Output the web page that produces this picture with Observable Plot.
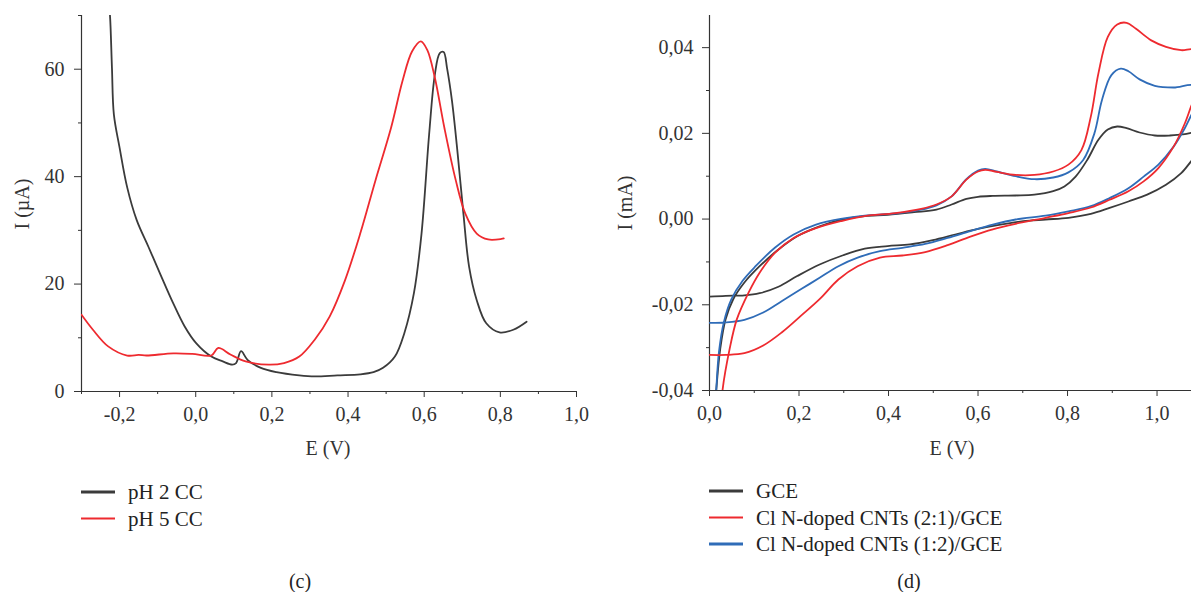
<!DOCTYPE html>
<html>
<head>
<meta charset="utf-8">
<script src="https://cdn.jsdelivr.net/npm/d3@7"></script>
<script src="https://cdn.jsdelivr.net/npm/@observablehq/plot@0.6"></script>
<style>
  html, body { margin: 0; padding: 0; background: #fff; }
  #wrap { position: relative; width: 1191px; height: 592px; overflow: hidden; font-family: "Liberation Serif", "DejaVu Serif", serif; color: #333; }
  #wrap svg { position: absolute; top: 0; overflow: visible; }
  .lab { position: absolute; font-size: 20px; white-space: nowrap; color: #333; }
  .ylab { transform: translate(-50%, -50%) rotate(-90deg); }
  .xlab { transform: translate(-50%, -50%); }
  .leg { position: absolute; font-size: 21px; white-space: nowrap; color: #222; display: flex; align-items: center; transform: translateY(-50%); }
  .leg span.sw { display: inline-block; width: 34px; height: 2.5px; margin-right: 13px; }
  .cap { position: absolute; font-size: 20px; transform: translate(-50%, -50%); color: #222; }
</style>
</head>
<body>
<div id="wrap"></div>
<script>
// ---------- Panel (c): DPV, E (V) vs I (µA) ----------
const pH2CC = [
  [-0.228,72],[-0.225,69.8],[-0.220,60.2],[-0.215,51.6],[-0.200,45.4],[-0.180,38.0],[-0.155,31.9],
  [-0.124,26.9],[-0.094,22.0],[-0.059,16.4],[-0.029,12.1],[0.001,9.0],[0.041,6.5],
  [0.071,5.6],[0.096,5.0],[0.106,5.3],[0.119,7.5],[0.136,5.9],[0.171,4.4],[0.212,3.6],
  [0.272,3.0],[0.312,2.8],[0.372,3.0],[0.432,3.2],[0.467,3.6],[0.492,4.4],[0.523,6.5],
  [0.548,10.9],[0.573,18.3],[0.593,29.4],[0.613,47.9],[0.628,59.0],[0.641,63.0],[0.651,63.2],
  [0.660,60.2],[0.673,54.1],[0.688,44.2],[0.703,33.1],[0.718,23.2],[0.738,17.0],[0.763,12.7],
  [0.798,11.0],[0.834,11.5],[0.869,13.0]
];
const pH5CC = [
  [-0.300,14.3],[-0.270,11.5],[-0.230,8.4],[-0.180,6.7],[-0.150,6.8],[-0.129,6.7],[-0.059,7.1],
  [-0.009,7.0],[0.041,6.7],[0.059,8.1],[0.091,6.9],[0.131,5.6],[0.192,5.0],[0.232,5.3],
  [0.272,6.5],[0.312,9.6],[0.352,14.0],[0.392,20.7],[0.432,29.4],[0.472,39.3],[0.513,49.1],
  [0.543,57.8],[0.568,63.3],[0.591,65.2],[0.608,63.6],[0.628,58.4],[0.653,49.1],[0.683,39.3],
  [0.708,33.1],[0.738,29.4],[0.768,28.3],[0.803,28.4],[0.809,28.5]
];
const cSeries = ["pH 2 CC", "pH 5 CC"];
const cXTicks = [-0.2, 0, 0.2, 0.4, 0.6, 0.8, 1.0];
const cXMinor = [-0.3, -0.1, 0.1, 0.3, 0.5, 0.7, 0.9];
const cYTicks = [0, 20, 40, 60];
const cYMinor = [10, 30, 50, 70];

// ---------- Panel (d): CV, E (V) vs I (mA) ----------
const gce = [
  [0.010,-0.047],[0.015,-0.040],[0.024,-0.0303],[0.036,-0.0234],[0.053,-0.0187],[0.078,-0.0148],
  [0.112,-0.0110],[0.154,-0.0071],[0.196,-0.0040],[0.246,-0.0017],[0.297,-0.0001],[0.347,0.0007],
  [0.398,0.0010],[0.457,0.0016],[0.507,0.0022],[0.541,0.0034],[0.574,0.0047],[0.600,0.0052],
  [0.633,0.0054],[0.684,0.0055],[0.726,0.0057],[0.768,0.0065],[0.793,0.0076],[0.818,0.0099],
  [0.844,0.0138],[0.869,0.0185],[0.890,0.0209],[0.911,0.0216],[0.932,0.0212],[0.961,0.0202],
  [0.995,0.0195],[1.029,0.0195],[1.062,0.0198],[1.085,0.0200],
  [1.085,0.0143],[1.079,0.0138],[1.054,0.0107],[1.020,0.0080],[0.978,0.0057],[0.936,0.0041],
  [0.894,0.0026],[0.852,0.0012],[0.802,0.0003],[0.751,-0.0001],[0.701,-0.0005],[0.650,-0.0013],
  [0.600,-0.0023],[0.549,-0.0036],[0.499,-0.0049],[0.448,-0.0059],[0.398,-0.0063],[0.347,-0.0069],
  [0.297,-0.0085],[0.246,-0.0106],[0.196,-0.0133],[0.154,-0.0158],[0.112,-0.0173],[0.078,-0.0178],
  [0.036,-0.0179],[0.000,-0.0181]
];
const cnt21 = [
  [0.024,-0.047],[0.029,-0.040],[0.045,-0.0303],[0.061,-0.0234],[0.087,-0.0172],[0.112,-0.0125],
  [0.146,-0.0079],[0.188,-0.0044],[0.238,-0.0021],[0.297,-0.0004],[0.347,0.0007],[0.415,0.0014],
  [0.473,0.0024],[0.507,0.0034],[0.541,0.0053],[0.574,0.0092],[0.600,0.0111],[0.616,0.0115],
  [0.642,0.0110],[0.684,0.0103],[0.726,0.0103],[0.768,0.0111],[0.802,0.0127],[0.831,0.0161],
  [0.852,0.0239],[0.869,0.0340],[0.890,0.0425],[0.911,0.0454],[0.932,0.0458],[0.953,0.0444],
  [0.987,0.0417],[1.020,0.0402],[1.054,0.0394],[1.085,0.0394],
  [1.085,0.0280],[1.079,0.0270],[1.062,0.0223],[1.037,0.0169],[1.003,0.0119],[0.970,0.0088],
  [0.936,0.0065],[0.894,0.0045],[0.852,0.0027],[0.802,0.0014],[0.751,0.0003],[0.684,-0.0011],
  [0.633,-0.0024],[0.583,-0.0041],[0.532,-0.0061],[0.482,-0.0077],[0.431,-0.0085],[0.381,-0.0090],
  [0.331,-0.0110],[0.288,-0.0141],[0.246,-0.0187],[0.204,-0.0226],[0.162,-0.0264],[0.120,-0.0295],
  [0.078,-0.0313],[0.036,-0.0317],[0.000,-0.0317]
];
const cnt12 = [
  [0.011,-0.047],[0.015,-0.040],[0.021,-0.0311],[0.032,-0.0241],[0.049,-0.0187],[0.074,-0.0144],
  [0.103,-0.0110],[0.146,-0.0067],[0.188,-0.0036],[0.238,-0.0013],[0.297,0.0001],[0.347,0.0008],
  [0.415,0.0013],[0.473,0.0022],[0.507,0.0032],[0.541,0.0053],[0.574,0.0093],[0.600,0.0113],
  [0.616,0.0117],[0.642,0.0111],[0.684,0.0100],[0.726,0.0093],[0.768,0.0097],[0.802,0.0109],
  [0.835,0.0138],[0.860,0.0200],[0.877,0.0278],[0.898,0.0336],[0.919,0.0351],[0.936,0.0345],
  [0.961,0.0326],[0.995,0.0311],[1.037,0.0307],[1.085,0.0311],
  [1.085,0.0255],[1.079,0.0247],[1.062,0.0212],[1.037,0.0169],[1.003,0.0127],[0.970,0.0099],
  [0.936,0.0072],[0.894,0.0049],[0.852,0.0030],[0.802,0.0018],[0.751,0.0008],[0.684,-0.0001],
  [0.633,-0.0013],[0.583,-0.0028],[0.532,-0.0044],[0.482,-0.0058],[0.431,-0.0067],[0.381,-0.0075],
  [0.331,-0.0090],[0.288,-0.0110],[0.246,-0.0137],[0.204,-0.0164],[0.162,-0.0191],[0.120,-0.0218],
  [0.078,-0.0235],[0.036,-0.0241],[0.000,-0.0242]
];
const dSeries = ["GCE", "Cl N-doped CNTs (2:1)/GCE", "Cl N-doped CNTs (1:2)/GCE"];
const dXTicks = [0, 0.2, 0.4, 0.6, 0.8, 1.0];
const dXMinor = [0.1, 0.3, 0.5, 0.7, 0.9];
const dYTicks = [-0.04, -0.02, 0, 0.02, 0.04];
const dYMinor = [-0.03, -0.01, 0.01, 0.03];

const BLACK = "#3b3b3b", RED = "#ee2a2f", BLUE = "#2f6cb8";

const loc = d3.formatLocale({decimal: ",", thousands: ".", grouping: [3], currency: ["", ""], minus: "-"});
const f1 = loc.format(".1f"), f2 = loc.format(".2f"), f0 = loc.format("d");

const wrap = document.getElementById("wrap");
const common = {fontFamily: "Liberation Serif, serif", fontSize: "20px", color: "#333", background: "transparent", overflow: "visible"};

// Panel (c)
const plotC = Plot.plot({
  width: 600, height: 460,
  marginLeft: 81, marginRight: 24, marginTop: 15, marginBottom: 69,
  style: common,
  x: {domain: [-0.3, 1.0]},
  y: {domain: [0, 70]},
  marks: [
    Plot.axisX({ticks: cXTicks, tickSize: 6, tickPadding: 9, tickFormat: f1, label: null}),
    Plot.axisX({ticks: cXMinor, tickSize: 3, tickFormat: () => "", label: null}),
    Plot.axisY({ticks: cYTicks, tickSize: 7, tickPadding: 10, tickFormat: f0, label: null}),
    Plot.axisY({ticks: cYMinor, tickSize: 3, tickFormat: () => "", label: null}),
    Plot.ruleX([-0.3], {stroke: "#333", strokeWidth: 1.2}),
    Plot.ruleY([0], {stroke: "#333", strokeWidth: 1.2}),
    Plot.line(pH2CC, {x: d => d[0], y: d => d[1], stroke: BLACK, strokeWidth: 1.8, curve: "catmull-rom", clip: true}),
    Plot.line(pH5CC, {x: d => d[0], y: d => d[1], stroke: RED, strokeWidth: 1.8, curve: "catmull-rom", clip: true})
  ]
});
plotC.style.left = "0px";
wrap.appendChild(plotC);

// Panel (d)
const plotD = Plot.plot({
  width: 591, height: 460,
  marginLeft: 109, marginRight: 0, marginTop: 15, marginBottom: 70,
  style: common,
  x: {domain: [0, 1.077]},
  y: {domain: [-0.04, 0.0475]},
  marks: [
    Plot.axisX({ticks: dXTicks, tickSize: 6, tickPadding: 9, tickFormat: f1, label: null}),
    Plot.axisX({ticks: dXMinor, tickSize: 3, tickFormat: () => "", label: null}),
    Plot.axisY({ticks: dYTicks, tickSize: 7, tickPadding: 9, tickFormat: f2, label: null}),
    Plot.axisY({ticks: dYMinor, tickSize: 3, tickFormat: () => "", label: null}),
    Plot.ruleX([0], {stroke: "#333", strokeWidth: 1.2}),
    Plot.ruleY([-0.04], {stroke: "#333", strokeWidth: 1.2}),
    Plot.line(gce, {x: d => d[0], y: d => d[1], stroke: BLACK, strokeWidth: 1.8, curve: "catmull-rom", clip: true}),
    Plot.line(cnt12, {x: d => d[0], y: d => d[1], stroke: BLUE, strokeWidth: 1.8, curve: "catmull-rom", clip: true}),
    Plot.line(cnt21, {x: d => d[0], y: d => d[1], stroke: RED, strokeWidth: 1.8, curve: "catmull-rom", clip: true})
  ]
});
plotD.style.left = "600px";
wrap.appendChild(plotD);

// Axis labels, legends, captions (HTML text)
function addDiv(cls, text, left, top) {
  const el = document.createElement("div");
  el.className = cls;
  el.textContent = text;
  el.style.left = left + "px";
  el.style.top = top + "px";
  wrap.appendChild(el);
  return el;
}
addDiv("lab xlab", "E (V)", 328, 448);
addDiv("lab ylab", "I (\u00b5A)", 22, 204);
addDiv("lab xlab", "E (V)", 952, 448);
addDiv("lab ylab", "I (mA)", 625, 203);

function addLegend(label, color, left, top) {
  const el = document.createElement("div");
  el.className = "leg";
  el.style.left = left + "px";
  el.style.top = top + "px";
  const sw = document.createElement("span");
  sw.className = "sw";
  sw.style.background = color;
  el.appendChild(sw);
  el.appendChild(document.createTextNode(label));
  wrap.appendChild(el);
}
const cColors = [BLACK, RED];
cSeries.forEach((s, i) => addLegend(s, cColors[i], 81, 492 + i * 26.5));
const dColors = [BLACK, RED, BLUE];
dSeries.forEach((s, i) => addLegend(s, dColors[i], 709, 491 + i * 26.5));

addDiv("cap", "(c)", 300, 581);
addDiv("cap", "(d)", 909, 581);
</script>
</body>
</html>
